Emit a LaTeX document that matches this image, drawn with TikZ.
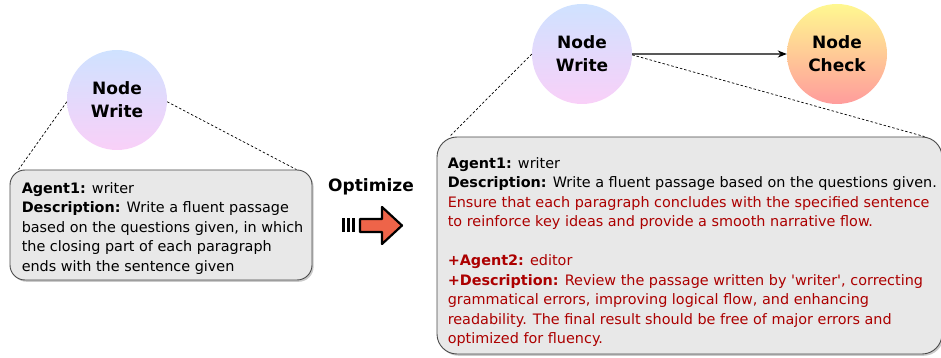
\documentclass[tikz,border=0pt]{standalone}
\usepackage{fontspec}
\setmainfont{DejaVu Sans}
\usetikzlibrary{arrows.meta,shadows}

\definecolor{boxfill}{HTML}{E8E8E8}
\definecolor{boxline}{HTML}{4A4A4A}
\definecolor{addred}{RGB}{172,0,0}
\definecolor{writetop}{HTML}{CFE2FF}
\definecolor{writebot}{HTML}{F9D0F8}
\definecolor{checktop}{HTML}{FFF890}
\definecolor{checkbot}{HTML}{FF9C9C}
\definecolor{optfill}{HTML}{EE6449}

\tikzset{
  agentnode/.style={circle, minimum size=100pt, inner sep=0pt, align=center,
    font={\fontsize{17}{23}\selectfont\bfseries}},
  writenode/.style={agentnode, top color=writetop, bottom color=writebot},
  checknode/.style={agentnode, top color=checktop, bottom color=checkbot},
  infobox/.style={draw=boxline, line width=0.9pt, fill=boxfill, rounded corners=#1,
    inner sep=0pt, drop shadow={shadow xshift=1.6pt, shadow yshift=-1.8pt, fill=black!35, opacity=0.6}},
  infotext/.style={anchor=north west, inner sep=0pt, align=left,
    font={\fontsize{14.4}{19.5}\selectfont}},
  zoomline/.style={dash pattern=on 2.5pt off 2pt, line width=0.7pt},
  flowarrow/.style={draw=black!65, line width=1.3pt, -{Stealth[length=9pt,width=7pt,color=black]}},
  optlabel/.style={font={\fontsize{17}{20}\selectfont\bfseries}},
}

\begin{document}
\begin{tikzpicture}[x=1pt, y=-1pt]
  \useasboundingbox (0,0) rectangle (941,358);

  % ---- left: single writer node ----
  \node[writenode] (w1) at (117,100) {Node\\Write};
  \node[infobox=15pt, minimum width=302pt, minimum height=110pt] (b1) at (161,225) {};
  \node[infotext] (t1) at ([shift={(12,12.5)}]b1.north west)
    {\textbf{Agent1:} writer\\
     \textbf{Description:} Write a fluent passage\\
     based on the questions given, in which\\
     the closing part of each paragraph\\
     ends with the sentence given};
  \draw[zoomline] (w1.182) -- ([xshift=9pt]b1.north west);
  \draw[zoomline] (w1.-2) -- ([xshift=-16pt]b1.north east);

  % ---- middle: optimize arrow ----
  \node[optlabel] (opt) at (371,187) {Optimize};
  \foreach \sx in {341.7,346.7,351.7}
    \fill (\sx,218.3) rectangle ++(3.3,13.4);
  \coordinate (ar) at (360,219);
  \draw[fill=optfill, line width=2.2pt, line join=round]
    (ar) -- (382,219) -- (382,207) -- (402,225.5) -- (382,244) -- (382,232)
    -- (360,232) -- cycle;

  % ---- right: writer + check nodes ----
  \node[writenode] (w2) at (582,54) {Node\\Write};
  \node[checknode] (chk) at (837,54) {Node\\Check};
  \draw[flowarrow] (w2) -- (chk);

  \node[infobox=20pt, minimum width=505pt, minimum height=217pt] (b2) at (689.5,245.5) {};
  \node[infotext] (t2) at ([shift={(11,20.5)}]b2.north west)
    {\textbf{Agent1:} writer\\
     \textbf{Description:} Write a fluent passage based on the questions given.\\
     \color{addred}Ensure that each paragraph concludes with the specified sentence\\
     \color{addred}to reinforce key ideas and provide a smooth narrative flow.\\[19.5pt]
     \color{addred}\textbf{+Agent2:} editor\\
     \color{addred}\textbf{+Description:} Review the passage written by \textquotesingle writer\textquotesingle, correcting\\
     \color{addred}grammatical errors, improving logical flow, and enhancing\\
     \color{addred}readability. The final result should be free of major errors and\\
     \color{addred}optimized for fluency.};
  \draw[zoomline] (w2.west) -- ([xshift=13pt]b2.north west);
  \draw[zoomline] (w2.-1) -- ([xshift=-18pt]b2.north east);
\end{tikzpicture}
\end{document}
